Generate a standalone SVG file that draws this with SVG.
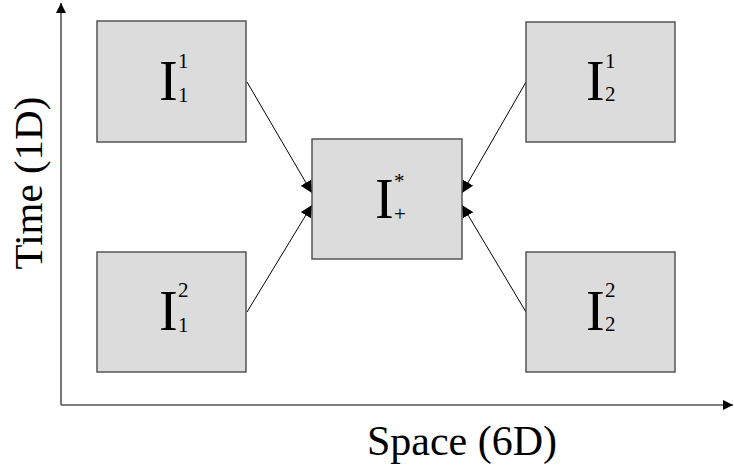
<svg xmlns="http://www.w3.org/2000/svg" width="734" height="471" viewBox="0 0 734 471">
  <defs>
    <style>
      .box { fill: #dcdcdc; stroke: #4a4a4a; stroke-width: 1.4; }
      .axis { stroke: #555555; stroke-width: 1.6; fill: none; }
      .link { stroke: #000000; stroke-width: 1; fill: none; }
      .sym { font-family: "Liberation Serif", "Times New Roman", serif; font-size: 56px; fill: #000; }
      .idx { font-family: "Liberation Serif", "Times New Roman", serif; font-size: 21px; fill: #000; }
      .lab { font-family: "Liberation Serif", "Times New Roman", serif; font-size: 41px; fill: #000; }
    </style>
    <marker id="axisHead" markerWidth="12" markerHeight="12" refX="10" refY="5" orient="auto" markerUnits="userSpaceOnUse">
      <path d="M0,0 L10,5 L0,10 Z" fill="#000"/>
    </marker>
    <marker id="linkHead" markerWidth="14" markerHeight="14" refX="12" refY="6" orient="auto" markerUnits="userSpaceOnUse">
      <path d="M0,0 L12,6 L0,12 Z" fill="#000"/>
    </marker>
  </defs>

  <rect width="734" height="471" fill="#ffffff"/>

  <!-- axes -->
  <g id="axes">
    <line class="axis" x1="61" y1="405" x2="61" y2="3" marker-end="url(#axisHead)"/>
    <line class="axis" x1="61" y1="405" x2="733" y2="405" marker-end="url(#axisHead)"/>
    <text class="lab" x="462" y="455" text-anchor="middle" style="font-size:42px">Space (6D)</text>
    <text class="lab" transform="translate(42,183) rotate(-90)" text-anchor="middle">Time (1D)</text>
  </g>

  <!-- connectors -->
  <g id="connectors">
    <line class="link" x1="247" y1="82" x2="312" y2="193" marker-end="url(#linkHead)"/>
    <line class="link" x1="247" y1="312" x2="312" y2="205" marker-end="url(#linkHead)"/>
    <line class="link" x1="526" y1="82" x2="462" y2="193" marker-end="url(#linkHead)"/>
    <line class="link" x1="526" y1="312" x2="462" y2="205" marker-end="url(#linkHead)"/>
  </g>

  <!-- symbol, then superscript and subscript placed just after it -->
  <g id="node-I1-1">
    <rect class="box" x="97" y="21" width="149" height="121"/>
    <text class="sym" x="159" y="100">I</text>
    <text class="idx" x="178" y="68">1</text>
    <text class="idx" x="178" y="102">1</text>
  </g>

  <g id="node-I1-2">
    <rect class="box" x="97" y="252" width="149" height="120"/>
    <text class="sym" x="159" y="330">I</text>
    <text class="idx" x="178" y="297">2</text>
    <text class="idx" x="178" y="332">1</text>
  </g>

  <g id="node-I2-1">
    <rect class="box" x="526" y="22" width="149" height="120"/>
    <text class="sym" x="586" y="100">I</text>
    <text class="idx" x="605" y="68">1</text>
    <text class="idx" x="605" y="101">2</text>
  </g>

  <g id="node-I2-2">
    <rect class="box" x="526" y="252" width="149" height="120"/>
    <text class="sym" x="586" y="330">I</text>
    <text class="idx" x="605" y="297">2</text>
    <text class="idx" x="605" y="331">2</text>
  </g>

  <g id="node-Istar">
    <rect class="box" x="312" y="139" width="150" height="120"/>
    <text class="sym" x="375" y="218">I</text>
    <text class="idx" x="394" y="188">*</text>
    <text class="idx" x="394" y="221">+</text>
  </g>
</svg>
